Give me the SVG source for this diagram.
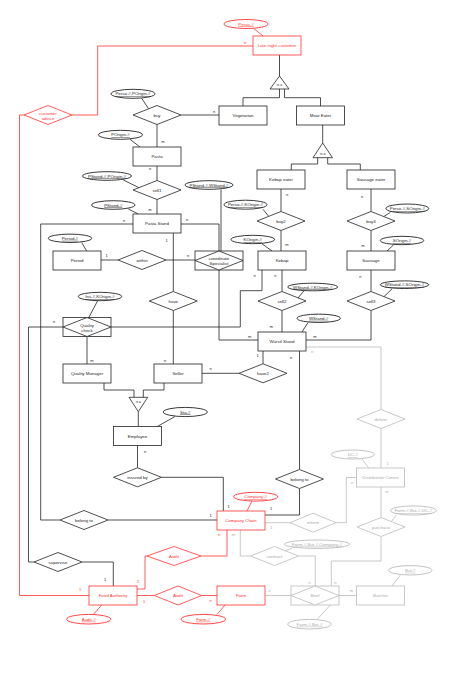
<svg xmlns="http://www.w3.org/2000/svg" width="454" height="687" viewBox="0 0 454 687">
<style>
.s{fill:#fff;stroke:#222;stroke-width:0.8}
.sr{fill:#fff;stroke:#f33;stroke-width:0.8}
.sg{fill:#fff;stroke:#bbb;stroke-width:0.8}
.a{fill:#fff;stroke:#222;stroke-width:0.9}
.ar{fill:#fff;stroke:#f33;stroke-width:0.9}
.ag{fill:#fff;stroke:#bbb;stroke-width:0.9}
#conn polyline,#conn line{fill:none;stroke:#222;stroke-width:0.8}
#conn .r{stroke:#f33}
#conn .g{stroke:#bbb}
text{font-family:"Liberation Sans",Arial,sans-serif;font-size:4.4px;text-anchor:middle;dominant-baseline:central;fill:#222}
text.tr{fill:#f33}
text.tg{fill:#aaa}
text.u{text-decoration:underline}
text.k{font-size:4px}
text.i{font-size:3.4px}
</style>
<rect width="454" height="687" fill="#fff"/>
<g id="conn">
<polyline points="279.5,55 279.5,76"/>
<polyline points="279.5,89 279.5,97.7 243,97.7 243,106"/>
<polyline points="284.5,89 284.5,97.7 320.5,97.7 320.5,106"/>
<polyline points="181,115 219,115"/>
<polyline points="157,124.5 157,147"/>
<polyline points="157,166 157,180.5"/>
<polyline points="157,199.5 157,214"/>
<polyline points="322.7,125 322.7,143"/>
<polyline points="317.7,157.7 317.7,164 291.3,164 291.3,170"/>
<polyline points="327.7,157.7 327.7,164 360.3,164 360.3,170"/>
<polyline points="281,189 281,211.5"/>
<polyline points="371,189 371,211.5"/>
<polyline points="281,230.5 281,251"/>
<polyline points="371,230.5 371,251"/>
<polyline points="282,270 282,291.5"/>
<polyline points="371,270 371,291.5"/>
<polyline points="282,310.5 282,332"/>
<polyline points="371,310.5 371,340 306,340"/>
<polyline points="133,224 40.7,224 40.7,520 60,520"/>
<polyline points="108,520 217,520"/>
<polyline points="181,224 219,224 219,251"/>
<polyline points="219,270 219,340 258,340"/>
<polyline points="118,260 101,260"/>
<polyline points="166,260 195,260"/>
<polyline points="173.3,233 173.3,291.5"/>
<polyline points="173.3,310.5 173.3,364"/>
<polyline points="262,270 262,290.7 240.3,290.7 240.3,327 111,327"/>
<polyline points="63,327 28.5,327 28.5,562 34,562"/>
<polyline points="82,562 113.3,562 113.3,586"/>
<polyline points="87,336.5 87,364"/>
<polyline points="104,383 104,390 134,390 134,397.3"/>
<polyline points="164,383 164,390 143.3,390 143.3,397.3"/>
<polyline points="138.3,411.7 138.3,426.5"/>
<polyline points="137.5,445.5 137.5,467.8"/>
<polyline points="161.5,477.3 223.3,477.3 223.3,511"/>
<polyline points="202,373.3 239,373.3"/>
<polyline points="263,351 263,363.8"/>
<polyline points="299.5,351 299.5,469.5"/>
<polyline points="299.5,488.5 299.5,515 265,515"/>
<line x1="141.7" y1="98.3" x2="148.5" y2="108.7"/>
<line x1="130" y1="139.3" x2="140" y2="147"/>
<line x1="123.3" y1="180" x2="139" y2="187.7"/>
<line x1="221" y1="189.5" x2="221" y2="251"/>
<line x1="128.3" y1="209" x2="138.3" y2="214"/>
<line x1="263" y1="209.3" x2="268.7" y2="216.3"/>
<line x1="390.3" y1="212.5" x2="383.7" y2="216.5"/>
<line x1="81.7" y1="242.5" x2="86.7" y2="251"/>
<line x1="262" y1="243.8" x2="272" y2="251"/>
<line x1="393.7" y1="244.8" x2="387" y2="251"/>
<line x1="304" y1="290.8" x2="298" y2="298"/>
<line x1="392" y1="288.8" x2="384" y2="296.6"/>
<line x1="97.5" y1="301" x2="88.5" y2="318"/>
<line x1="308" y1="322.6" x2="302" y2="332"/>
<line x1="175" y1="416.5" x2="157.3" y2="426.5"/>
<polyline class="r" points="253,46 97.7,46 97.7,115 72,115"/>
<polyline class="r" points="24,115 19.5,115 19.5,595.5 89,595.5"/>
<polyline class="r" points="137,589 145,589 145,556 147,556"/>
<polyline class="r" points="201,556 227,556 227,530"/>
<polyline class="r" points="137,595.5 154.3,595.5"/>
<polyline class="r" points="201.7,595.5 217,595.5"/>
<line class="r" x1="253.7" y1="28.5" x2="263" y2="36"/>
<line class="r" x1="252" y1="501" x2="247" y2="511"/>
<line class="r" x1="93.3" y1="614.5" x2="101.7" y2="605"/>
<line class="r" x1="217" y1="614.5" x2="225" y2="605"/>
<polyline class="g" points="306,347 381,347 381,409.5"/>
<polyline class="g" points="381,428.5 381,468"/>
<polyline class="g" points="265,522.7 290,522.7"/>
<polyline class="g" points="336,522.7 346.3,522.7 346.3,477.5 356.5,477.5"/>
<polyline class="g" points="381,487 381,517.5"/>
<polyline class="g" points="381,536.5 381,561 331.3,561 331.3,586"/>
<polyline class="g" points="240.3,530 240.3,556 250.5,556"/>
<polyline class="g" points="298.5,556 315.3,556 315.3,586"/>
<polyline class="g" points="265,595.5 291,595.5"/>
<polyline class="g" points="339,595.5 356.5,595.5"/>
<line class="g" x1="362" y1="459" x2="368.7" y2="468"/>
<line class="g" x1="292" y1="548.3" x2="285" y2="550.7"/>
<line class="g" x1="396.3" y1="515" x2="391.3" y2="521.6"/>
<line class="g" x1="400.3" y1="575" x2="392" y2="586"/>
<line class="g" x1="317" y1="619.5" x2="330.3" y2="605"/>
</g>
<g id="cards">
<text class="k" x="214" y="111">n</text>
<text class="k" x="163" y="141">m</text>
<text class="k" x="150" y="168.3">n</text>
<text class="k" x="150" y="209.3">m</text>
<text class="k" x="124" y="220">n</text>
<text class="k" x="187" y="219.5">n</text>
<text class="k" x="287" y="194.3">n</text>
<text class="k" x="362" y="196">n</text>
<text class="k" x="287" y="244">m</text>
<text class="k" x="363" y="245">m</text>
<text class="k" x="275.3" y="275.7">n</text>
<text class="k" x="360.3" y="276.7">n</text>
<text class="k" x="254.7" y="275.7">n</text>
<text class="k" x="271.3" y="326">m</text>
<text class="k" x="249.7" y="336.7">m</text>
<text class="k" x="315" y="336">m</text>
<text class="k" x="166.7" y="240">1</text>
<text class="k" x="106.7" y="255">1</text>
<text class="k" x="188" y="255">n</text>
<text class="k" x="54" y="321">n</text>
<text class="k" x="92" y="360">m</text>
<text class="k" x="165" y="360">n</text>
<text class="k" x="210.7" y="368.3">n</text>
<text class="k" x="257.7" y="355.7">1</text>
<text class="k" x="291" y="357.7">n</text>
<text class="k" x="145" y="451">n</text>
<text class="k" x="228.7" y="506">1</text>
<text class="k" x="271" y="508">1</text>
<text class="k" x="210.7" y="515">1</text>
<text class="k" x="105" y="579.3">1</text>
<text class="k tr" x="245" y="42">n</text>
<text class="k tr" x="80" y="589">1</text>
<text class="k tr" x="138" y="581.7">1</text>
<text class="k tr" x="219" y="534.3">n</text>
<text class="k tr" x="144" y="601">1</text>
<text class="k tr" x="210.7" y="600.7">n</text>
<text class="k tg" x="312" y="351.7">n</text>
<text class="k tg" x="387.7" y="463.3">1</text>
<text class="k tg" x="352" y="482.3">n</text>
<text class="k tg" x="271.3" y="527.3">1</text>
<text class="k tg" x="387" y="491">m</text>
<text class="k tg" x="233.7" y="534.3">m</text>
<text class="k tg" x="269.7" y="590.7">n</text>
<text class="k tg" x="309.3" y="582.7">n</text>
<text class="k tg" x="335.3" y="582.7">n</text>
<text class="k tg" x="351.3" y="590.7">m</text>
</g>
<g id="late-night-customer"><rect class="sr" x="253" y="36" width="48" height="19"/><text class="tr" x="277" y="45.5">Late night customer</text></g>
<g id="vegetarian"><rect class="s" x="219" y="106" width="48" height="19"/><text x="243" y="115.5">Vegetarian</text></g>
<g id="meat-eater"><rect class="s" x="296.5" y="106" width="48" height="19"/><text x="320.5" y="115.5">Meat Eater</text></g>
<g id="pasta"><rect class="s" x="133" y="147" width="48" height="19"/><text x="157" y="156.5">Pasta</text></g>
<g id="pasta-stand"><rect class="s" x="133" y="214" width="48" height="19"/><text x="157" y="223.5">Pasta Stand</text></g>
<g id="kebap-eater"><rect class="s" x="257" y="170" width="48" height="19"/><text x="281" y="179.5">Kebap eater</text></g>
<g id="sausage-eater"><rect class="s" x="347" y="170" width="48" height="19"/><text x="371" y="179.5">Sausage eater</text></g>
<g id="kebap"><rect class="s" x="258" y="251" width="48" height="19"/><text x="282" y="260.5">Kebap</text></g>
<g id="sausage"><rect class="s" x="347" y="251" width="48" height="19"/><text x="371" y="260.5">Sausage</text></g>
<g id="period"><rect class="s" x="53" y="251" width="48" height="19"/><text x="77" y="260.5">Period</text></g>
<g id="wurstl-stand"><rect class="s" x="258" y="332" width="48" height="19"/><text x="282" y="341.5">Würstl Stand</text></g>
<g id="quality-manager"><rect class="s" x="63" y="364" width="48" height="19"/><text x="87" y="373.5">Quality Manager</text></g>
<g id="seller"><rect class="s" x="154" y="364" width="48" height="19"/><text x="178" y="373.5">Seller</text></g>
<g id="employee"><rect class="s" x="113.5" y="426.5" width="48" height="19"/><text x="137.5" y="436">Employee</text></g>
<g id="distribution-centre"><rect class="sg" x="356.5" y="468" width="48" height="19"/><text class="tg" x="380.5" y="477.5">Distribution Centre</text></g>
<g id="company-chain"><rect class="sr" x="217" y="511" width="48" height="19"/><text class="tr" x="241" y="520.5">Company Chain</text></g>
<g id="food-authority"><rect class="sr" x="89" y="586" width="48" height="19"/><text class="tr" x="113" y="595.5">Food Authority</text></g>
<g id="farm"><rect class="sr" x="217" y="586" width="48" height="19"/><text class="tr" x="241" y="595.5">Farm</text></g>
<g id="butcher"><rect class="sg" x="356.5" y="586" width="48" height="19"/><text class="tg" x="380.5" y="595.5">Butcher</text></g>
<g id="quality-check"><rect class="s" x="63" y="317.5" width="48" height="19"/><polygon class="s" points="63,327 87,317.5 111,327 87,336.5"/><text x="87" y="327"><tspan x="87" dy="-2.5">Quality</tspan><tspan x="87" dy="5">check</tspan></text></g>
<g id="coordinate-specialist"><rect class="s" x="195" y="251" width="48" height="19"/><polygon class="s" points="195,260.5 219,251 243,260.5 219,270"/><text x="219" y="260.5"><tspan x="219" dy="-2.5">coordinate</tspan><tspan x="219" dy="5">Specialist</tspan></text></g>
<g id="beef"><rect class="sg" x="291" y="586" width="48" height="19"/><polygon class="sg" points="291,595.5 315,586 339,595.5 315,605"/><text class="tg" x="315" y="595.5">Beef</text></g>
<g id="customer-advice"><polygon class="sr" points="24,115 48,105.5 72,115 48,124.5"/><text class="tr" x="48" y="115"><tspan x="48" dy="-2.5">customer</tspan><tspan x="48" dy="5">advice</tspan></text></g>
<g id="buy"><polygon class="s" points="133,115 157,105.5 181,115 157,124.5"/><text x="157" y="115">buy</text></g>
<g id="sell1"><polygon class="s" points="133,190 157,180.5 181,190 157,199.5"/><text x="157" y="190">sell1</text></g>
<g id="buy2"><polygon class="s" points="257,221 281,211.5 305,221 281,230.5"/><text x="281" y="221">buy2</text></g>
<g id="buy3"><polygon class="s" points="347,221 371,211.5 395,221 371,230.5"/><text x="371" y="221">buy3</text></g>
<g id="within"><polygon class="s" points="118,260 142,250.5 166,260 142,269.5"/><text x="142" y="260">within</text></g>
<g id="have"><polygon class="s" points="149.3,301 173.3,291.5 197.3,301 173.3,310.5"/><text x="173.3" y="301">have</text></g>
<g id="sell2"><polygon class="s" points="258,301 282,291.5 306,301 282,310.5"/><text x="282" y="301">sell2</text></g>
<g id="sell3"><polygon class="s" points="347,301 371,291.5 395,301 371,310.5"/><text x="371" y="301">sell3</text></g>
<g id="have2"><polygon class="s" points="239,373.3 263,363.8 287,373.3 263,382.8"/><text x="263" y="373.3">have2</text></g>
<g id="deliver"><polygon class="sg" points="357,419 381,409.5 405,419 381,428.5"/><text class="tg" x="381" y="419">deliver</text></g>
<g id="insured-by"><polygon class="s" points="113.5,477.3 137.5,467.8 161.5,477.3 137.5,486.8"/><text x="137.5" y="477.3">insured by</text></g>
<g id="belong-to-1"><polygon class="s" points="60,520 84,510.5 108,520 84,529.5"/><text x="84" y="520">belong to</text></g>
<g id="belong-to-2"><polygon class="s" points="275.5,479 299.5,469.5 323.5,479 299.5,488.5"/><text x="299.5" y="479">belong to</text></g>
<g id="inform"><polygon class="sg" points="290,522.7 313,513.2 336,522.7 313,532.2"/><text class="tg" x="313" y="522.7">inform</text></g>
<g id="purchase"><polygon class="sg" points="357,527 381,517.5 405,527 381,536.5"/><text class="tg" x="381" y="527">purchase</text></g>
<g id="audit-1"><polygon class="sr" points="147,556 174,546.5 201,556 174,565.5"/><text class="tr" x="174" y="556">Audit</text></g>
<g id="contract"><polygon class="sg" points="250.5,556 274.5,546.5 298.5,556 274.5,565.5"/><text class="tg" x="274.5" y="556">contract</text></g>
<g id="supervise"><polygon class="s" points="34,562 58,552.5 82,562 58,571.5"/><text x="58" y="562">supervise</text></g>
<g id="audit-2"><polygon class="sr" points="154.3,595.5 178,586 201.7,595.5 178,605"/><text class="tr" x="178" y="595.5">Audit</text></g>
<g id="isa-1"><polygon class="s" points="279.5,76 270,89 289,89"/><text class="i" x="279.5" y="85.3">is a</text></g>
<g id="isa-2"><polygon class="s" points="322.7,143 313,157.7 332.5,157.7"/><text class="i" x="322.7" y="153.5">is a</text></g>
<g id="isa-3"><polygon class="s" points="129,397.3 147.7,397.3 138.3,411.7"/><text class="i" x="138.3" y="401.5">is a</text></g>
<g id="attr-perso"><ellipse class="ar" cx="246" cy="24" rx="22" ry="4.5"/><text class="u tr" x="246" y="24">Perso-#</text></g>
<g id="attr-perso-porigin"><ellipse class="a" cx="133" cy="93.8" rx="22" ry="4.5"/><text class="u" x="133" y="93.8">Perso-#,POrigin-#</text></g>
<g id="attr-porigin"><ellipse class="a" cx="120.5" cy="134.8" rx="22" ry="4.5"/><text class="u" x="120.5" y="134.8">POrigin-#</text></g>
<g id="attr-pstand-porigin"><ellipse class="a" cx="107" cy="176" rx="24.5" ry="4.3"/><text class="u" x="107" y="176">PStand-#,POrigin-#</text></g>
<g id="attr-pstand-wstand"><ellipse class="a" cx="209" cy="185" rx="24" ry="4.3"/><text class="u" x="209" y="185">PStand-#,WStand-#</text></g>
<g id="attr-pstand"><ellipse class="a" cx="113.3" cy="205" rx="21.7" ry="4.3"/><text class="u" x="113.3" y="205">PStand-#</text></g>
<g id="attr-perso-korigin"><ellipse class="a" cx="245.5" cy="204.7" rx="21.5" ry="4.5"/><text class="u" x="245.5" y="204.7">Perso-#,KOrigin-#</text></g>
<g id="attr-perso-sorigin"><ellipse class="a" cx="407.3" cy="208.5" rx="21.4" ry="4.5"/><text class="u" x="407.3" y="208.5">Perso-#,SOrigin-#</text></g>
<g id="attr-period"><ellipse class="a" cx="70" cy="238.3" rx="21.7" ry="4.2"/><text class="u" x="70" y="238.3">Period-#</text></g>
<g id="attr-korigin"><ellipse class="a" cx="252.8" cy="239.5" rx="21.8" ry="4.2"/><text class="u" x="252.8" y="239.5">KOrigin-#</text></g>
<g id="attr-sorigin"><ellipse class="a" cx="402" cy="240.5" rx="21.7" ry="4.2"/><text class="u" x="402" y="240.5">SOrigin-#</text></g>
<g id="attr-wstand-korigin"><ellipse class="a" cx="312.7" cy="287" rx="25" ry="3.8"/><text class="u" x="312.7" y="287">WStand-#,KOrigin-#</text></g>
<g id="attr-wstand-sorigin"><ellipse class="a" cx="404.5" cy="284.7" rx="24.2" ry="3.8"/><text class="u" x="404.5" y="284.7">WStand-#,SOrigin-#</text></g>
<g id="attr-ins-korigin"><ellipse class="a" cx="100" cy="296.5" rx="21.7" ry="4.2"/><text class="u" x="100" y="296.5">Ins-#,KOrigin-#</text></g>
<g id="attr-wstand"><ellipse class="a" cx="318.7" cy="318.3" rx="21.7" ry="4.2"/><text class="u" x="318.7" y="318.3">WStand-#</text></g>
<g id="attr-sta"><ellipse class="a" cx="185.3" cy="412" rx="22" ry="4.6"/><text class="u" x="185.3" y="412">Sta-#</text></g>
<g id="attr-dc"><ellipse class="ag" cx="352.8" cy="454.5" rx="21.5" ry="4.5"/><text class="u tg" x="352.8" y="454.5">DC-#</text></g>
<g id="attr-company"><ellipse class="ar" cx="255.7" cy="496.7" rx="22" ry="4.4"/><text class="u tr" x="255.7" y="496.7">Company-#</text></g>
<g id="attr-farm-but-company"><ellipse class="ag" cx="317" cy="544.2" rx="32.7" ry="4.2"/><text class="u tg" x="317" y="544.2">Farm-#,But-#,Company-#</text></g>
<g id="attr-farm-but-dc"><ellipse class="ag" cx="413.3" cy="510.5" rx="23" ry="4.5"/><text class="u tg" x="413.3" y="510.5">Farm-#,But-#,DC-#</text></g>
<g id="attr-but"><ellipse class="ag" cx="410.3" cy="570.3" rx="21.7" ry="4.7"/><text class="u tg" x="410.3" y="570.3">But-#</text></g>
<g id="attr-audit"><ellipse class="ar" cx="88.7" cy="619.2" rx="22" ry="4.8"/><text class="u tr" x="88.7" y="619.2">Audit-#</text></g>
<g id="attr-farm"><ellipse class="ar" cx="203.3" cy="619.2" rx="22.3" ry="4.8"/><text class="u tr" x="203.3" y="619.2">Farm-#</text></g>
<g id="attr-farm-but"><ellipse class="ag" cx="309.5" cy="624.2" rx="21.8" ry="4.8"/><text class="u tg" x="309.5" y="624.2">Farm-#,But-#</text></g>
</svg>
